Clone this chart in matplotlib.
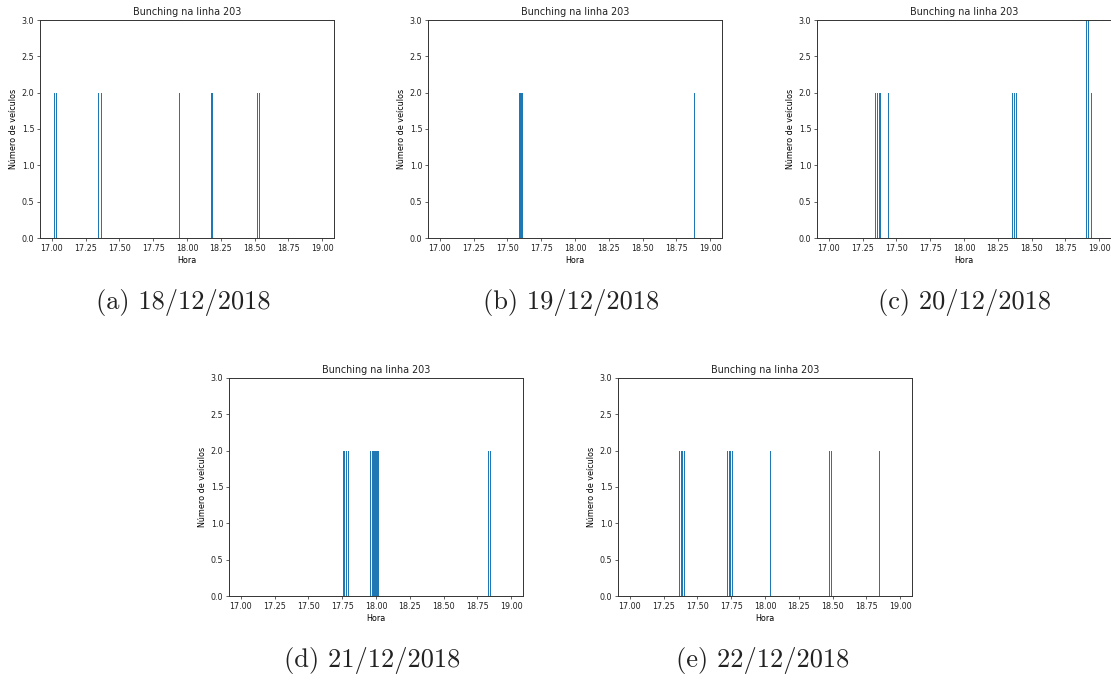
import matplotlib
matplotlib.use("Agg")
import matplotlib.pyplot as plt

# times (decimal hours) and vehicle counts
hora_a = [17.018, 17.035, 17.345, 17.365, 17.945, 18.185, 18.518, 18.533]
veic_a = [2, 2, 2, 2, 2, 2, 2, 2]

hora_b = [17.593, 17.603, 17.613, 18.885]
veic_b = [2, 2, 2, 2]

hora_c = [17.348, 17.36, 17.372, 17.385, 17.44, 18.36, 18.373, 18.388,
          18.905, 18.92, 18.94]
veic_c = [2, 2, 2, 2, 2, 2, 2, 2, 3, 3, 2]

hora_d = [17.757, 17.77, 17.783, 17.797, 17.96, 17.972, 17.985, 18.0, 18.015,
          18.833, 18.847]
veic_d = [2, 2, 2, 2, 2, 2, 2, 2, 2, 2, 2]

hora_e = [17.37, 17.38, 17.39, 17.403, 17.72, 17.735, 17.745, 17.758, 18.039,
          18.478, 18.493, 18.847]
veic_e = [2, 2, 2, 2, 2, 2, 2, 2, 2, 2, 2, 2]

legendas = ["(a) 18/12/2018", "(b) 19/12/2018", "(c) 20/12/2018",
            "(d) 21/12/2018", "(e) 22/12/2018"]

xticks = [17.0, 17.25, 17.5, 17.75, 18.0, 18.25, 18.5, 18.75, 19.0]
yticks = [0.0, 0.5, 1.0, 1.5, 2.0, 2.5, 3.0]

W, H = 1111, 690
s = 0.58  # the subfigures are scaled down inside the document
plt.rcParams.update({
    "font.size": 10 * s,
    "axes.titlesize": 12 * s,
    "axes.labelsize": 10 * s,
    "xtick.labelsize": 10 * s,
    "ytick.labelsize": 10 * s,
    "axes.linewidth": 0.7,
    "axes.edgecolor": "#333333",
    "xtick.major.size": 3.5 * s,
    "ytick.major.size": 3.5 * s,
    "xtick.major.width": 0.5,
    "ytick.major.width": 0.5,
    "xtick.major.pad": 3.5 * s,
    "ytick.major.pad": 3.5 * s,
    "axes.labelpad": 4 * s,
    "axes.titlepad": 6 * s,
    "text.color": "#222222",
    "xtick.color": "#222222",
    "ytick.color": "#222222",
})

fig = plt.figure(figsize=(W / 100, H / 100), dpi=100)

# left, top in pixels
caixas = [(40, 20), (428, 20), (817, 20), (229, 378), (618, 378)]
aw, ah = 294, 218
dados = [(hora_a, veic_a), (hora_b, veic_b), (hora_c, veic_c),
         (hora_d, veic_d), (hora_e, veic_e)]

for (left, top), (hora, veic) in zip(caixas, dados):
    ax = fig.add_axes([left / W, (H - top - ah) / H, aw / W, ah / H])
    ax.bar(hora, veic, width=0.008, color="#1f77b4")
    ax.set_xlim(16.913, 19.087)
    ax.set_ylim(0, 3)
    ax.set_xticks(xticks)
    ax.set_xticklabels([f"{t:.2f}" for t in xticks])
    ax.set_yticks(yticks)
    ax.set_yticklabels([f"{t:.1f}" for t in yticks])
    ax.set_title("Bunching na linha 203")
    ax.set_xlabel("Hora")
    ax.set_ylabel("Número de veículos")

# captions under each subfigure
pos_leg = [(183, 303), (571, 303), (965, 303), (372, 660), (763, 660)]
for (cx, cy), txt in zip(pos_leg, legendas):
    fig.text(cx / W, 1 - cy / H, txt, ha="center", va="center",
             fontsize=19, family="cmr10")

fig.savefig("out.png", dpi=100)
